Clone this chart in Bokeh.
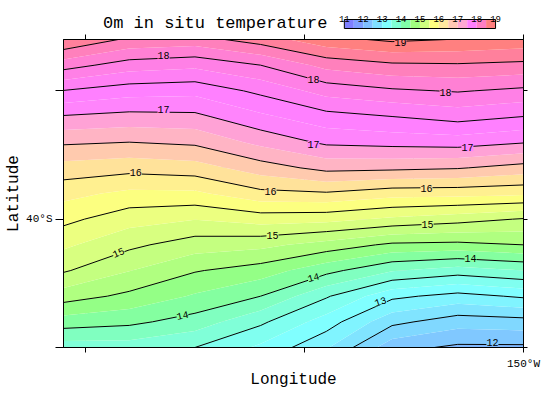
import numpy as np
from bokeh.plotting import figure
from bokeh.models import Range1d, LinearAxis, FixedTicker, ColumnDataSource
from bokeh.layouts import column
from bokeh.embed import file_html
from bokeh.resources import INLINE
from bokeh.core.properties import value

FONT = "Liberation Mono"

# ---- grid (degrees east / degrees north) ----
lons = [189, 192, 195, 198, 201, 204, 207, 210]
lats = [-45, -44, -43, -42, -41, -40, -39, -38, -37, -36, -35, -34, -33]

# surface temperature (deg C) per latitude row, west -> east
t_45s = [13.62, 13.63, 13.50, 13.20, 12.78, 12.09, 11.95, 11.95]
t_44s = [14.13, 14.06, 13.89, 13.55, 13.13, 12.57, 12.36, 12.40]
t_43s = [14.62, 14.44, 14.22, 14.00, 13.53, 13.06, 12.91, 13.04]
t_42s = [15.03, 14.76, 14.52, 14.38, 14.08, 13.77, 13.63, 13.75]
t_41s = [15.30, 15.06, 14.87, 14.82, 14.65, 14.45, 14.43, 14.50]
t_40s = [15.57, 15.35, 15.26, 15.36, 15.33, 15.20, 15.10, 14.98]
t_39s = [15.83, 15.69, 15.70, 15.93, 15.97, 15.85, 15.84, 15.80]
t_38s = [16.15, 16.09, 16.14, 16.38, 16.58, 16.56, 16.52, 16.40]
t_37s = [16.54, 16.50, 16.55, 16.82, 17.05, 17.09, 17.12, 17.02]
t_36s = [16.98, 16.92, 16.94, 17.20, 17.41, 17.50, 17.60, 17.50]
t_35s = [17.49, 17.36, 17.33, 17.56, 17.85, 17.96, 18.02, 17.94]
t_34s = [18.11, 17.88, 17.81, 18.00, 18.33, 18.45, 18.47, 18.43]
t_33s = [18.75, 18.45, 18.40, 18.62, 18.92, 19.05, 18.99, 18.92]

temp = np.array([t_45s, t_44s, t_43s, t_42s, t_41s, t_40s, t_39s,
                 t_38s, t_37s, t_36s, t_35s, t_34s, t_33s])

# contour line levels
line_levels = [12.0, 12.5, 13.0, 13.5, 14.0, 14.5, 15.0, 15.5,
               16.0, 16.5, 17.0, 17.5, 18.0, 18.5, 19.0]

# shading levels and colours
fill_levels = [11.5, 11.75, 12.0, 12.25, 12.5, 12.75, 13.0, 13.25, 13.5, 13.75,
               14.0, 14.25, 14.5, 14.75, 15.0, 15.25, 15.5, 15.75, 16.0, 16.25,
               16.5, 16.75, 17.0, 17.25, 17.5, 17.75, 18.0, 18.25, 18.5, 18.75, 19.25]
fill_colors = ["#80a8ff", "#80b8ff", "#80c8ff", "#80d8ff", "#80e4ff", "#80f4ff",
               "#80ffff", "#80fff0", "#80ffd8", "#80ffc0", "#84ffa0", "#94ff86",
               "#b0ff80", "#c4ff80", "#d8ff80", "#ecff80", "#fcff80", "#fff090",
               "#ffe29a", "#ffcaae", "#ffb4c4", "#ffa2d6", "#ff84fc", "#ff80ff",
               "#ff80f4", "#ff80e6", "#ff80d4", "#ff80bc", "#ff809c", "#ff8080"]

# colour key
cbar_levels = [11, 11.5, 12, 12.5, 13, 13.5, 14, 14.5, 15, 15.5, 16, 16.5, 17, 17.5, 18, 18.5, 19]
cbar_colors = ["#7f7fff", "#7f9fff", "#7fbfff", "#7fdfff", "#7fffff", "#7fffd4",
               "#80ffa8", "#a0ff80", "#cfff7f", "#ffff7f", "#ffe89f", "#ffc8b4",
               "#ffa8d4", "#ff7fff", "#ff7fc4", "#ff7f7f"]
cbar_tick_values = [11, 12, 13, 14, 15, 16, 17, 18, 19]
cbar_tick_labels = ["11", "12", "13", "14", "15", "16", "17", "18", "19"]

# contour labels
clab_text = ["19", "18", "18", "18", "17", "17", "17", "16", "16", "16",
             "15", "15", "15", "14", "14", "14", "13", "12"]
clab_level = [19, 18, 18, 18, 17, 17, 17, 16, 16, 16, 15, 15, 15, 14, 14, 14, 13, 12]
clab_lon = [204.38, 193.57, 200.41, 206.44, 193.57, 200.41, 207.44, 192.30, 198.45, 205.57,
            191.51, 198.54, 205.62, 194.43, 200.41, 207.58, 203.47, 208.58]
clab_lat = [-33.12, -33.62, -34.57, -35.05, -35.73, -37.09, -37.22, -38.19, -38.91, -38.81,
            -41.30, -40.64, -40.21, -43.75, -42.27, -41.53, -43.20, -44.79]
clab_angle_deg = [0, 0, 0, 0, 0, 0, 0, 0, 0, 0, 23, 0, 0, 12, 15, 0, 18, 0]

# axis ticks
xtick_values = [190, 200, 210]
xtick_labels = ["", "", "150°W"]
ytick_values = [-45, -40, -35]
ytick_labels = ["", "40°S", ""]

title_text = "0m in situ temperature"

# ---------------- colour key / title strip ----------------
cb = figure(width=557, height=33, x_range=Range1d(-3.857, 20.69), y_range=Range1d(0, 33),
            min_border_left=63, min_border_right=0, min_border_top=0, min_border_bottom=0,
            x_axis_location=None, y_axis_location=None, toolbar_location=None,
            output_backend="svg", outline_line_color=None)
cb.grid.visible = False
cb.quad(left=cbar_levels[:-1], right=cbar_levels[1:], bottom=5, top=14,
        fill_color=cbar_colors, line_color=None)
cb.quad(left=[cbar_levels[0]], right=[cbar_levels[-1]], bottom=5, top=14,
        fill_color=None, line_color="black", line_width=1)
cb.text(x=cbar_tick_values, y=[14.3] * len(cbar_tick_values), text=cbar_tick_labels,
        text_font=value(FONT), text_font_size="9px", text_align="center",
        text_baseline="alphabetic", text_color="black")
cb.text(x=[-1.77], y=[10.5], text=[title_text], text_font=value(FONT),
        text_font_size="17px", text_align="left", text_baseline="middle",
        text_color="black")

# ---------------- main map ----------------
p = figure(frame_width=460, frame_height=308, x_range=Range1d(189, 210),
           y_range=Range1d(-45, -33), min_border_left=63, min_border_right=30,
           min_border_top=6, min_border_bottom=45, x_axis_location=None,
           y_axis_location=None, toolbar_location=None, output_backend="svg")
p.outline_line_color = "black"
p.outline_line_width = 1

p.contour(lons, lats, temp, fill_levels, fill_color=fill_colors)
p.contour(lons, lats, temp, line_levels, line_color="black", line_width=1)

idx = np.searchsorted(fill_levels, clab_level, side="right") - 1
idx = np.clip(idx, 0, len(fill_colors) - 1)
lab_src = ColumnDataSource(dict(
    x=clab_lon, y=clab_lat, text=clab_text,
    angle=[np.deg2rad(a) for a in clab_angle_deg],
    bg=[fill_colors[i] for i in idx]))
p.text(x="x", y="y", text="text", angle="angle", source=lab_src,
       text_font=value(FONT), text_font_size="10px", text_align="center",
       text_baseline="middle", text_color="black",
       background_fill_color="bg", padding=0)


def style_axis(ax, tick_out, labels):
    ax.major_tick_out = tick_out
    ax.major_tick_in = 0
    ax.minor_tick_out = 0
    ax.minor_tick_in = 0
    ax.axis_line_color = "black"
    ax.major_tick_line_color = "black"
    ax.major_label_text_font = FONT
    ax.major_label_text_color = "black"
    ax.axis_label_text_font = FONT
    ax.axis_label_text_font_style = "normal"
    ax.axis_label_text_color = "black"
    if not labels:
        ax.major_label_text_font_size = "0px"
        ax.major_label_standoff = 0


xb = LinearAxis(ticker=FixedTicker(ticks=xtick_values, minor_ticks=[]),
                major_label_overrides=dict(zip(xtick_values, xtick_labels)),
                axis_label="Longitude")
style_axis(xb, 5, True)
xb.major_label_text_font_size = "11px"
xb.major_label_standoff = 5
xb.axis_label_text_font_size = "16px"
xb.axis_label_standoff = -2
p.add_layout(xb, "below")

xt = LinearAxis(ticker=FixedTicker(ticks=xtick_values, minor_ticks=[]))
style_axis(xt, 5, False)
p.add_layout(xt, "above")

yl = LinearAxis(ticker=FixedTicker(ticks=ytick_values, minor_ticks=[]),
                major_label_overrides=dict(zip(ytick_values, ytick_labels)),
                axis_label="Latitude")
style_axis(yl, 8, True)
yl.major_label_text_font_size = "11px"
yl.major_label_standoff = 3
yl.axis_label_text_font_size = "16px"
yl.axis_label_standoff = 0
p.add_layout(yl, "left")

yr = LinearAxis(ticker=FixedTicker(ticks=ytick_values, minor_ticks=[]))
style_axis(yr, 4, False)
p.add_layout(yr, "right")

layout = column(cb, p)
open("out.html", "w").write(file_html(layout, INLINE))
